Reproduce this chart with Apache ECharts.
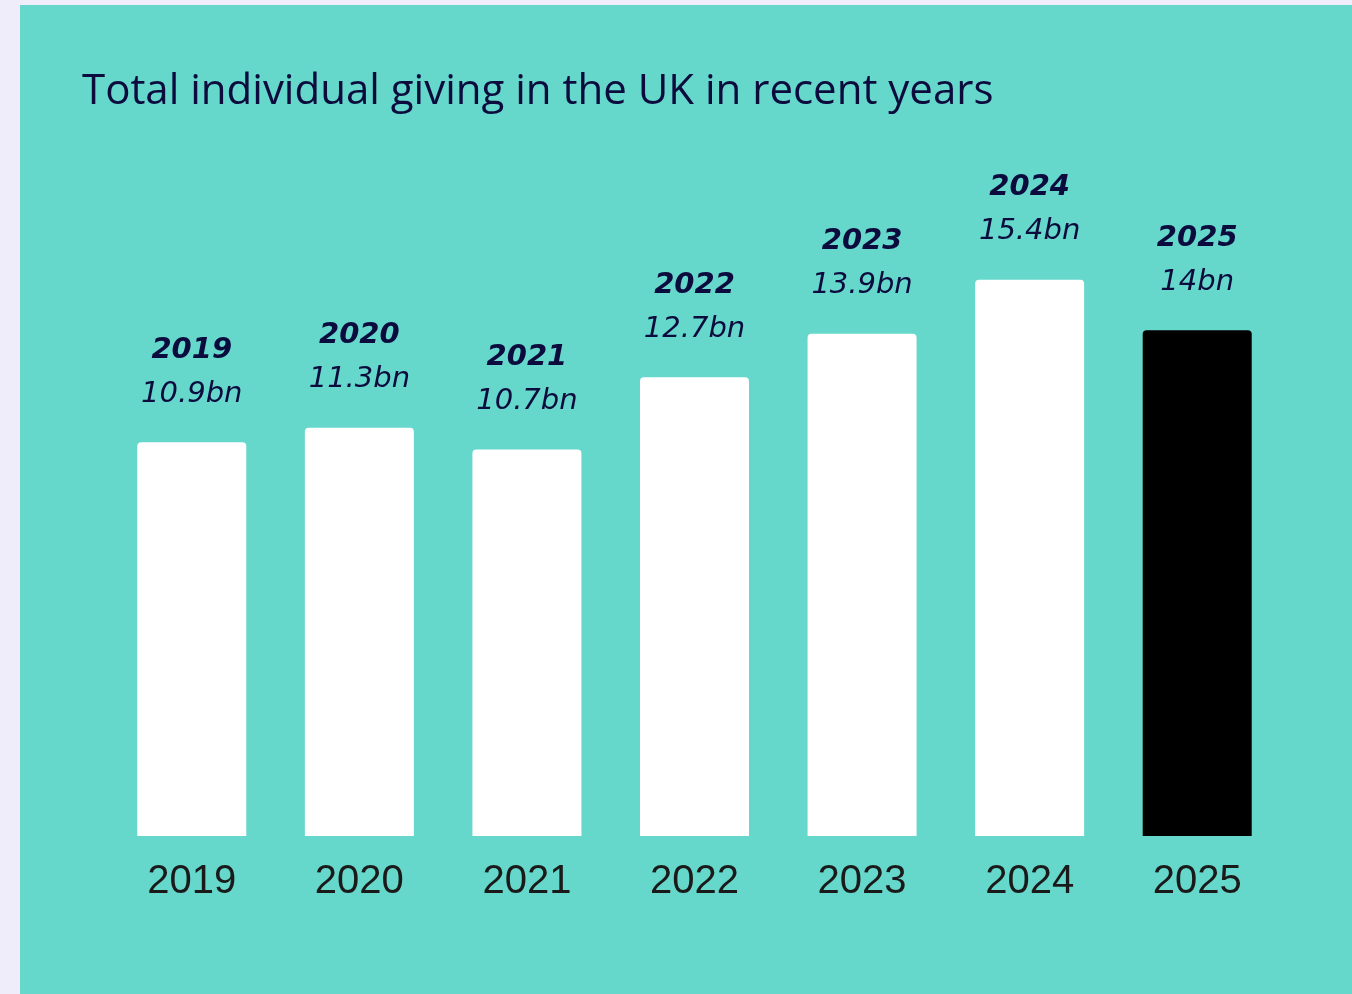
<!DOCTYPE html>
<html>
<head>
<meta charset="utf-8">
<script src="https://cdn.jsdelivr.net/npm/echarts@6/dist/echarts.min.js"></script>
<style>
  html, body { margin: 0; padding: 0; background: #efedf9; }
  #chart { width: 1352px; height: 994px; }
</style>
</head>
<body>
<div id="chart"></div>
<script>
// Total individual giving in the UK, £ billions
const years = ['2019', '2020', '2021', '2022', '2023', '2024', '2025'];
const giving = [10.9, 11.3, 10.7, 12.7, 13.9, 15.4, 14];
const valueLabels = ['10.9bn', '11.3bn', '10.7bn', '12.7bn', '13.9bn', '15.4bn', '14bn'];

const NAVY = '#0b0b3d';
const TEAL = '#66d7cb';

const chart = echarts.init(document.getElementById('chart'), null, { renderer: 'canvas' });

const barData = giving.map((v, i) => ({
  value: v,
  itemStyle: { color: i === giving.length - 1 ? '#000000' : '#ffffff' }
}));

chart.setOption({
  backgroundColor: '#efedf9',
  animation: false,
  graphic: [{
    type: 'rect',
    z: -10,
    shape: { x: 20, y: 5, width: 1332, height: 989 },
    style: { fill: TEAL }
  }],
  title: {
    text: 'Total individual giving in the UK in recent years',
    left: 77,
    top: 66,
    textStyle: {
      fontFamily: 'Open Sans',
      fontSize: 42,
      fontWeight: 'normal',
      color: NAVY
    }
  },
  grid: { left: 108, right: 71, top: 258, bottom: 158 },
  xAxis: {
    type: 'category',
    data: years,
    axisLine: { show: false },
    axisTick: { show: false },
    axisLabel: {
      margin: 26,
      fontFamily: 'Liberation Sans',
      fontSize: 40,
      color: '#1a1a1a'
    }
  },
  yAxis: {
    type: 'value',
    min: 0,
    max: 16,
    show: false,
    splitLine: { show: false }
  },
  series: [{
    type: 'bar',
    data: barData,
    barWidth: 109,
    itemStyle: { borderRadius: [4, 4, 0, 0] },
    label: {
      show: true,
      position: 'top',
      distance: 26,
      formatter: (p) => '{y|' + years[p.dataIndex] + '}\n{v|' + valueLabels[p.dataIndex] + '}',
      rich: {
        y: {
          fontFamily: 'DejaVu Sans',
          fontWeight: 'bold',
          fontStyle: 'italic',
          fontSize: 29,
          lineHeight: 44,
          color: NAVY
        },
        v: {
          fontFamily: 'DejaVu Sans',
          fontStyle: 'italic',
          fontSize: 29,
          lineHeight: 44,
          color: NAVY
        }
      }
    }
  }]
});
</script>
</body>
</html>
